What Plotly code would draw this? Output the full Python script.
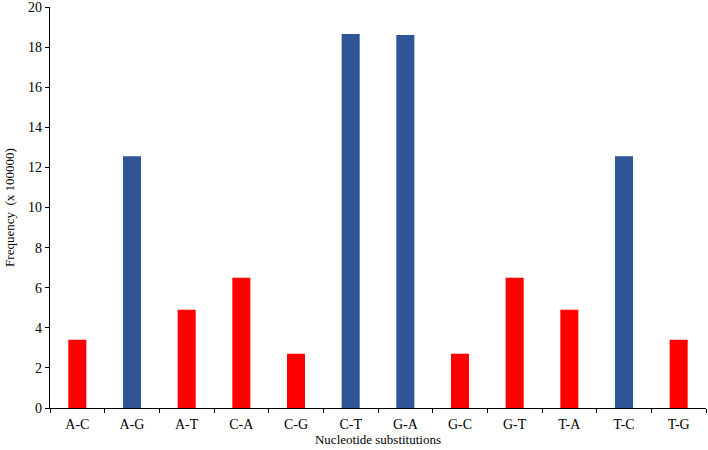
import plotly.graph_objects as go

categories = ["A-C", "A-G", "A-T", "C-A", "C-G", "C-T", "G-A", "G-C", "G-T", "T-A", "T-C", "T-G"]
values = [3.4, 12.55, 4.9, 6.5, 2.7, 18.65, 18.6, 2.7, 6.5, 4.9, 12.55, 3.4]
transitions = {"A-G", "C-T", "G-A", "T-C"}
colors = ["#2F5597" if c in transitions else "#FF0000" for c in categories]
y_ticks = list(range(0, 21, 2))

fig = go.Figure(go.Bar(x=categories, y=values, marker=dict(color=colors, line=dict(width=0)), width=0.33))

font = dict(family="Liberation Serif, Times New Roman, serif", size=14, color="#000000")
fig.update_layout(
    width=708, height=450,
    margin=dict(l=50, r=2, t=7, b=42),
    plot_bgcolor="white", paper_bgcolor="white",
    font=font, showlegend=False,
)
fig.update_xaxes(
    showline=True, linecolor="black", linewidth=1.2,
    ticks="outside", tickson="boundaries", ticklen=4, tickcolor="black",
    ticklabelstandoff=3, automargin=False,
    title=dict(text="Nucleotide substitutions", font=dict(size=13), standoff=3),
    tickfont=dict(size=14),
)
fig.update_yaxes(
    range=[0, 20], tickvals=y_ticks, showgrid=False, zeroline=False,
    showline=True, linecolor="black", linewidth=1.2,
    ticks="outside", ticklen=4, tickcolor="black",
    ticklabeloverflow="allow", automargin=False,
    title=dict(text="Frequency  (x 100000)", font=dict(size=13), standoff=10),
    tickfont=dict(size=14),
)
fig.write_html("out.html", config={"displayModeBar": False},
               post_script="document.body.style.margin='0';document.body.style.overflow='hidden';")
